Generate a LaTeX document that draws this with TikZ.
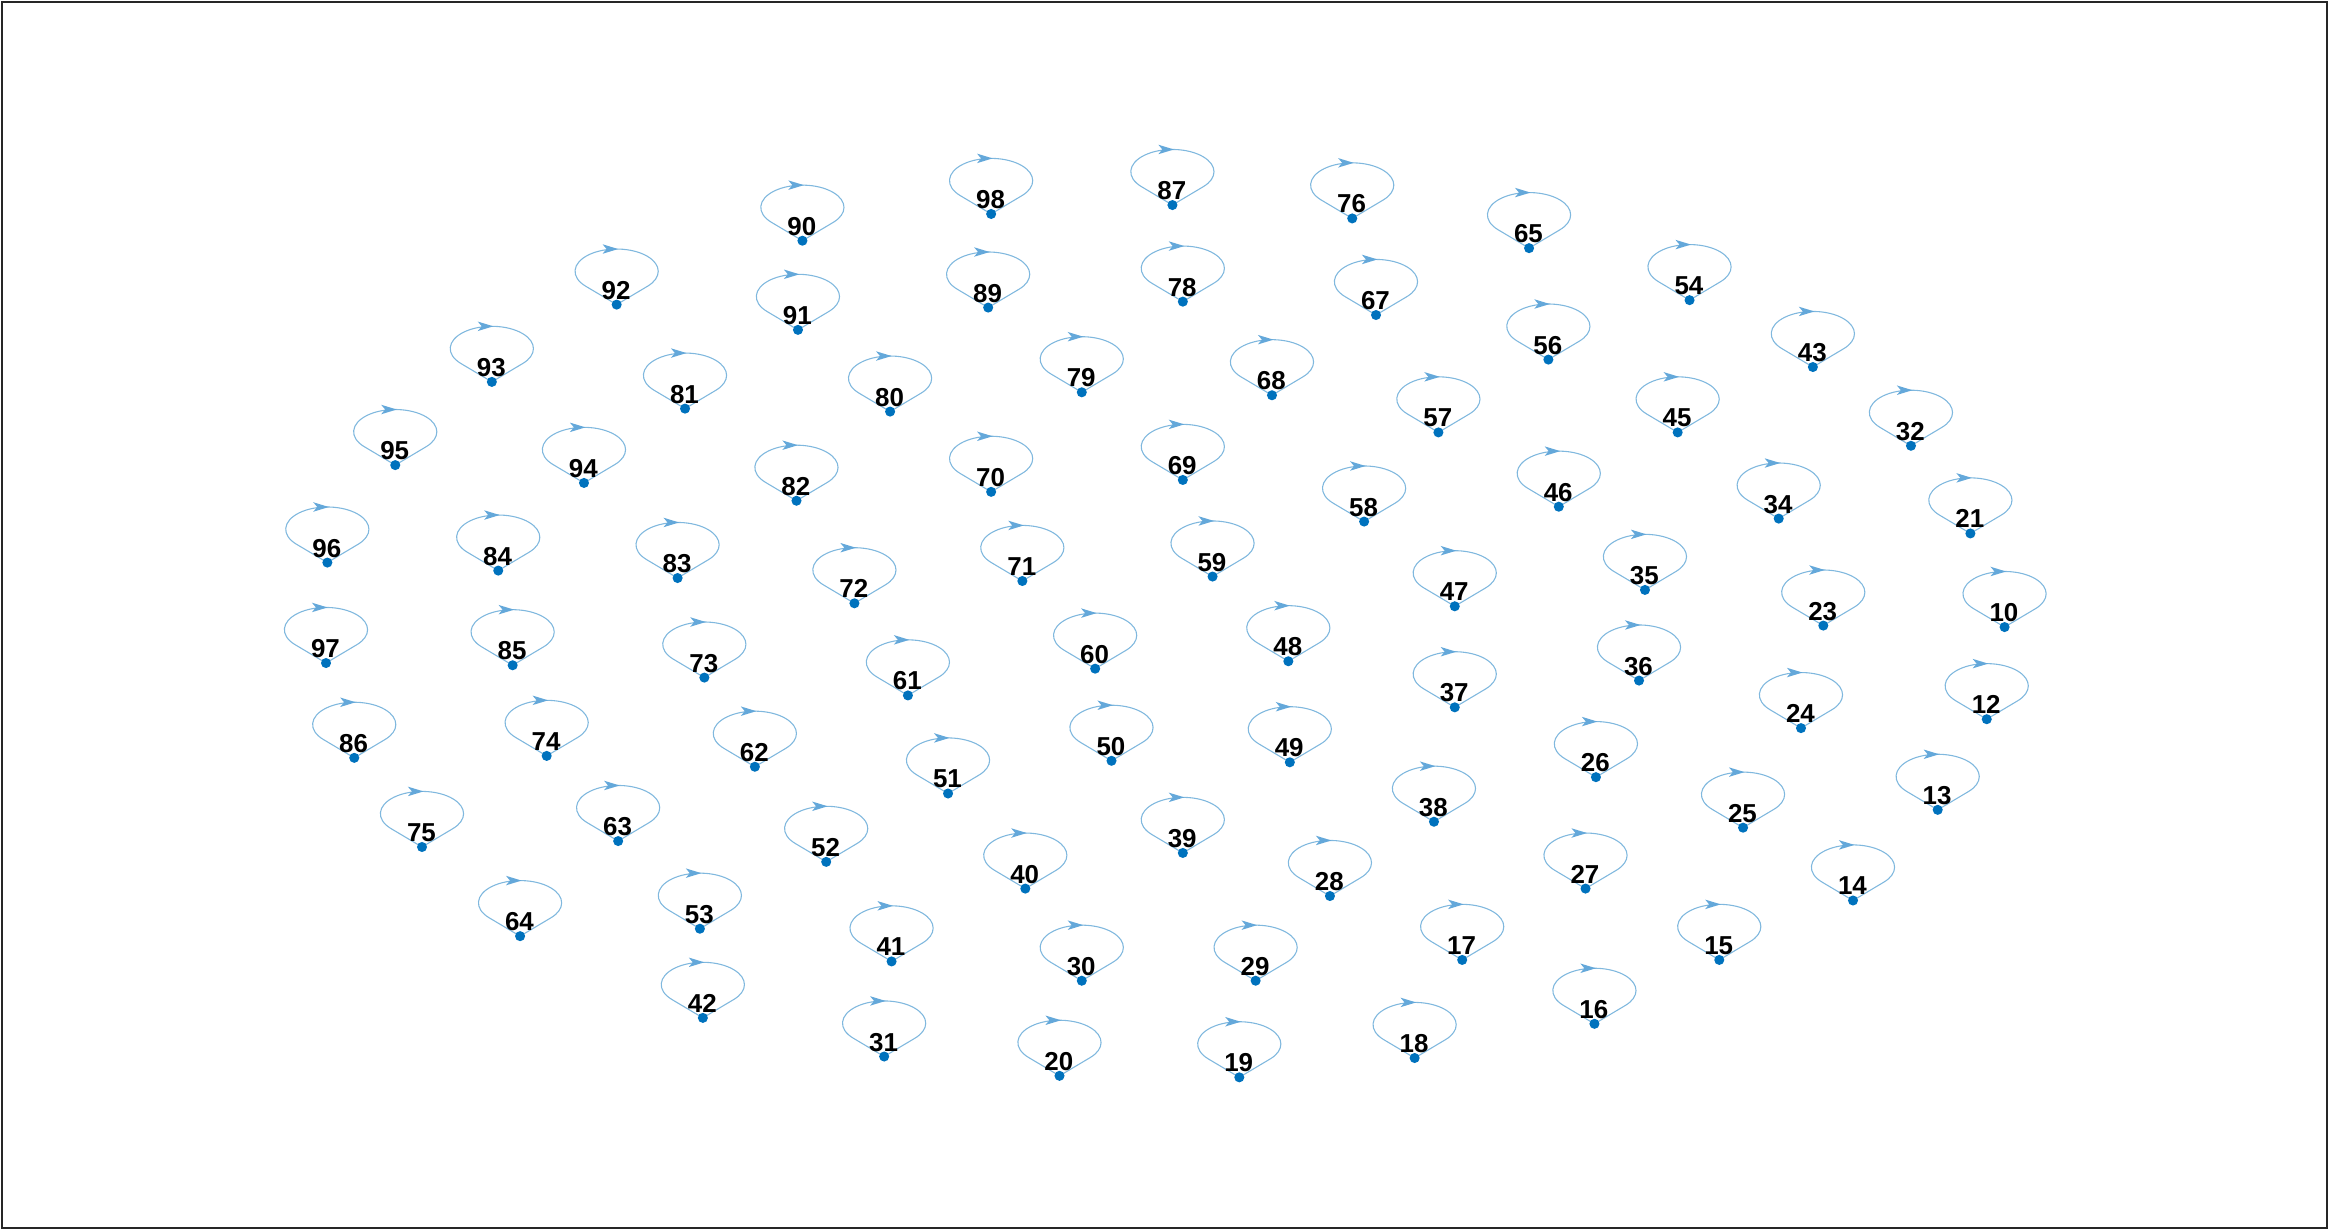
\documentclass[tikz,border=0pt]{standalone}
\usepackage{fontspec}
\setmainfont{Liberation Sans}
\definecolor{dotblue}{RGB}{0,114,189}
\definecolor{loopblue}{RGB}{128,184,222}
\definecolor{arrowblue}{RGB}{100,168,218}
\definecolor{framegray}{RGB}{38,38,38}
\tikzset{
  gdot/.style={circle,fill=dotblue,draw=none,inner sep=0pt,minimum size=3.05pt},
  gloop/.style={draw=loopblue,line width=0.33pt},
  garrow/.style={fill=arrowblue,draw=none},
  glabel/.style={inner sep=0pt,anchor=center,text depth=0pt,font=\bfseries\fontsize{7.85}{8.5}\selectfont,text=black},
}
\newcommand\selfloopnode[3]{%
  \draw[gloop] (#2,#3) -- ++(-20.8,-12.35) arc[start angle=137.9,end angle=402.1,x radius=28,y radius=15] -- cycle;
  \node[gdot] (n#1) at (#2,#3) {};
  \fill[garrow,shift={(n#1.center)}] (1.0,-37.4) -- (-9.5,-40.6) -- (-6.8,-37.4) -- (-9.5,-34.2) -- cycle;
  \node[glabel] (t#1) at ([shift={(-0.4,-9.8)}]n#1.center) {#1};
}
\begin{document}
\begin{tikzpicture}[x=0.45pt,y=-0.45pt]
\useasboundingbox (0,0) rectangle (1568,828.4);
\draw[framegray,line width=0.6pt] (1.6,1.6) rectangle (1566,826.4);
\selfloopnode{90}{540}{162}
\selfloopnode{98}{667}{144}
\selfloopnode{87}{789}{138}
\selfloopnode{76}{910}{147}
\selfloopnode{65}{1029}{167}
\selfloopnode{54}{1137}{202}
\selfloopnode{43}{1220}{247}
\selfloopnode{32}{1286}{300}
\selfloopnode{21}{1326}{359}
\selfloopnode{10}{1349}{422}
\selfloopnode{12}{1337}{484}
\selfloopnode{13}{1304}{545}
\selfloopnode{14}{1247}{606}
\selfloopnode{15}{1157}{646}
\selfloopnode{16}{1073}{689}
\selfloopnode{17}{984}{646}
\selfloopnode{18}{952}{712}
\selfloopnode{19}{834}{725}
\selfloopnode{20}{713}{724}
\selfloopnode{31}{595}{711}
\selfloopnode{42}{473}{685}
\selfloopnode{53}{471}{625}
\selfloopnode{64}{350}{630}
\selfloopnode{75}{284}{570}
\selfloopnode{86}{238.4}{510}
\selfloopnode{97}{219.4}{446.2}
\selfloopnode{96}{220.3}{378.6}
\selfloopnode{95}{266}{313}
\selfloopnode{93}{331}{257}
\selfloopnode{92}{415}{205}
\selfloopnode{91}{537}{222}
\selfloopnode{89}{665}{207}
\selfloopnode{78}{796}{203}
\selfloopnode{67}{926}{212}
\selfloopnode{56}{1042}{242}
\selfloopnode{45}{1129}{291}
\selfloopnode{34}{1197}{349}
\selfloopnode{23}{1227}{421}
\selfloopnode{24}{1212}{490}
\selfloopnode{25}{1173}{557}
\selfloopnode{26}{1074}{523}
\selfloopnode{27}{1067}{598}
\selfloopnode{28}{895}{603}
\selfloopnode{29}{845}{660}
\selfloopnode{30}{728}{660}
\selfloopnode{41}{600}{647}
\selfloopnode{52}{556}{580}
\selfloopnode{63}{416}{566}
\selfloopnode{74}{367.9}{508.7}
\selfloopnode{85}{345}{447.7}
\selfloopnode{84}{335.3}{384}
\selfloopnode{94}{393}{325}
\selfloopnode{81}{461}{275}
\selfloopnode{80}{599}{277}
\selfloopnode{79}{728}{264}
\selfloopnode{68}{856}{266}
\selfloopnode{57}{968}{291}
\selfloopnode{46}{1049}{341}
\selfloopnode{35}{1107}{397}
\selfloopnode{36}{1103}{458}
\selfloopnode{37}{979}{476}
\selfloopnode{38}{965}{553}
\selfloopnode{39}{796}{574}
\selfloopnode{40}{690}{598}
\selfloopnode{51}{638}{534}
\selfloopnode{62}{508}{516}
\selfloopnode{73}{474}{456}
\selfloopnode{83}{456}{389}
\selfloopnode{82}{536}{337}
\selfloopnode{70}{667}{331}
\selfloopnode{69}{796}{323}
\selfloopnode{58}{918}{351}
\selfloopnode{47}{979}{408}
\selfloopnode{48}{867}{445}
\selfloopnode{49}{868}{513}
\selfloopnode{50}{748}{512}
\selfloopnode{60}{737}{450}
\selfloopnode{61}{611}{468}
\selfloopnode{72}{575}{406}
\selfloopnode{71}{688}{391}
\selfloopnode{59}{816}{388}
\end{tikzpicture}
\end{document}
